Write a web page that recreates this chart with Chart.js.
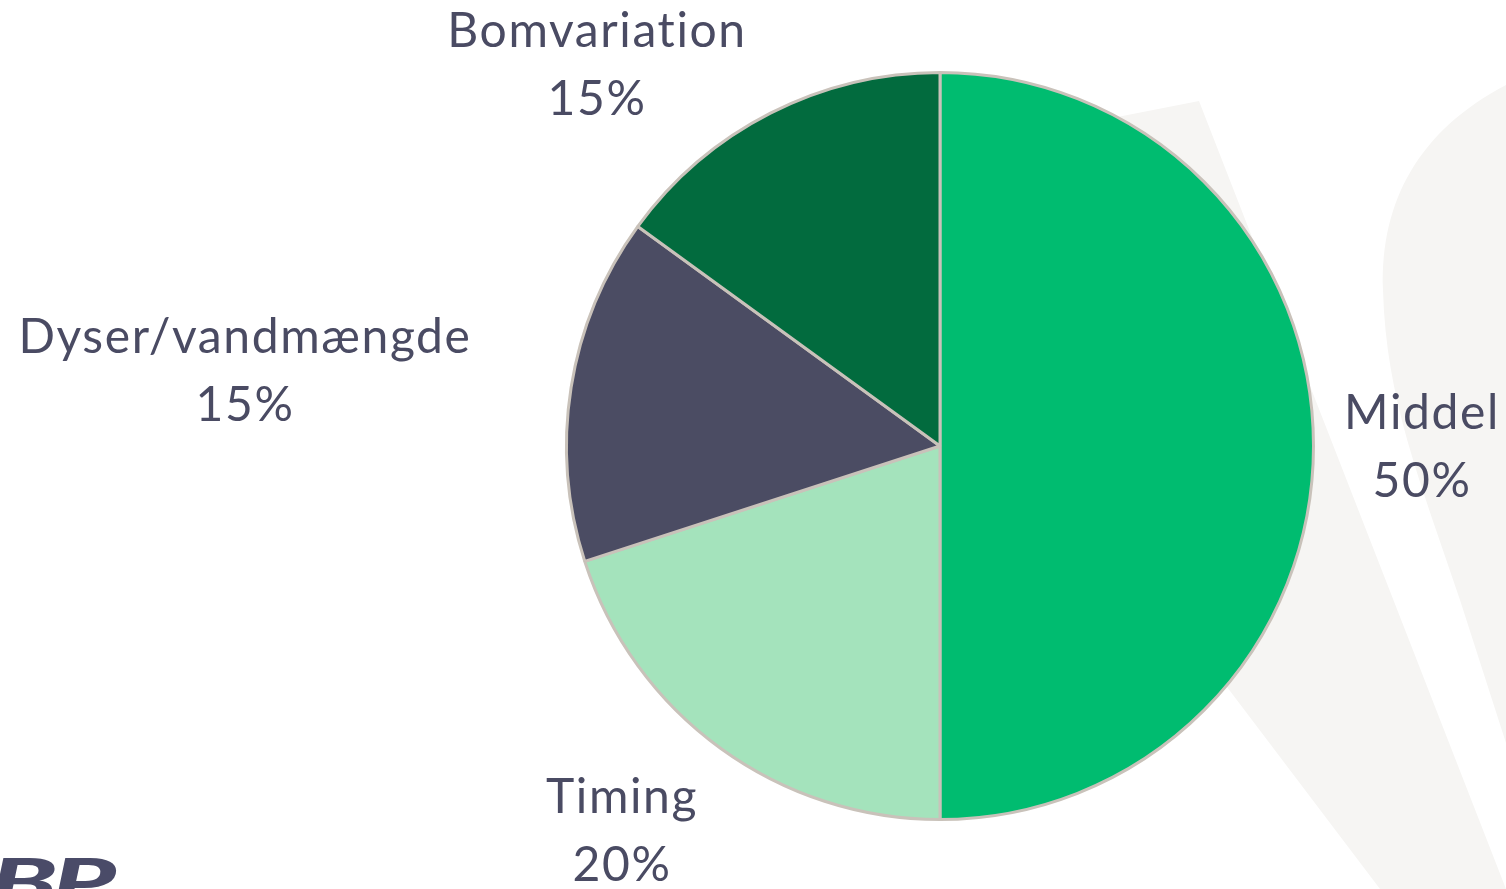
<!DOCTYPE html>
<html>
<head>
<meta charset="utf-8">
<script src="https://cdn.jsdelivr.net/npm/chart.js@4.4.1/dist/chart.umd.min.js"></script>
<style>
  html, body { margin: 0; padding: 0; background: #ffffff; overflow: hidden; }
  #wrap { position: relative; width: 1506px; height: 889px; overflow: hidden; }
  #logo { position: absolute; left: -10px; top: 843px; font: italic 900 62px Lato, sans-serif; color: #4a4b68; letter-spacing: -3px; transform: scaleX(1.75); transform-origin: left top; }
</style>
</head>
<body>
<div id="wrap">
  <canvas id="c" width="1506" height="889"></canvas>
  <div id="logo">BP</div>
</div>
<script>
const categories = ["Middel", "Timing", "Dyser/vandmængde", "Bomvariation"];
const values = [50, 20, 15, 15];
const sliceColors = ["#00bc70", "#a4e3bc", "#4b4c63", "#026b3e"];

// layout of the outside labels (box centres, px)
const labelCenters = [[1422, 448], [622, 832], [245, 372], [597, 66]];
const labelFont = "48px Lato, 'Open Sans', sans-serif";
const labelColor = "#4a4b63";
const lineGap = 68;

const watermark = {
  id: "watermark",
  beforeDraw(chart) {
    const ctx = chart.ctx;
    ctx.save();
    ctx.fillStyle = "#f6f5f3";
    ctx.beginPath();
    ctx.moveTo(1000, 140);
    ctx.lineTo(1199, 101);
    ctx.lineTo(1506, 889);
    ctx.lineTo(1380, 889);
    ctx.lineTo(1227, 687);
    ctx.lineTo(1000, 420);
    ctx.closePath();
    ctx.fill();
    ctx.beginPath();
    ctx.moveTo(1506, 85);
    ctx.bezierCurveTo(1420, 130, 1380, 200, 1383, 290);
    ctx.bezierCurveTo(1386, 400, 1420, 480, 1460, 600);
    ctx.lineTo(1506, 743);
    ctx.closePath();
    ctx.fill();
    ctx.restore();
  }
};

const outsideLabels = {
  id: "outsideLabels",
  afterDraw(chart) {
    const ctx = chart.ctx;
    const data = chart.data.datasets[0].data;
    const total = data.reduce((a, b) => a + b, 0);
    ctx.save();
    ctx.font = labelFont;
    if ("letterSpacing" in ctx) ctx.letterSpacing = "1.6px";
    ctx.fillStyle = labelColor;
    ctx.textAlign = "center";
    ctx.textBaseline = "middle";
    chart.data.labels.forEach((lab, i) => {
      const [cx, cy] = labelCenters[i];
      const pct = Math.round(data[i] / total * 100) + "%";
      ctx.fillText(lab, cx, cy - lineGap / 2);
      ctx.fillText(pct, cx, cy + lineGap / 2);
    });
    ctx.restore();
  }
};

new Chart(document.getElementById("c"), {
  type: "pie",
  data: {
    labels: categories,
    datasets: [{
      data: values,
      backgroundColor: sliceColors,
      borderColor: "#c9c2ba",
      borderWidth: 3,
      hoverOffset: 0,
      offset: 0
    }]
  },
  options: {
    responsive: false,
    animation: false,
    layout: { padding: { left: 565, right: 191, top: 71, bottom: 68 } },
    plugins: {
      legend: { display: false },
      tooltip: { enabled: false }
    }
  },
  plugins: [watermark, outsideLabels]
});
</script>
</body>
</html>
